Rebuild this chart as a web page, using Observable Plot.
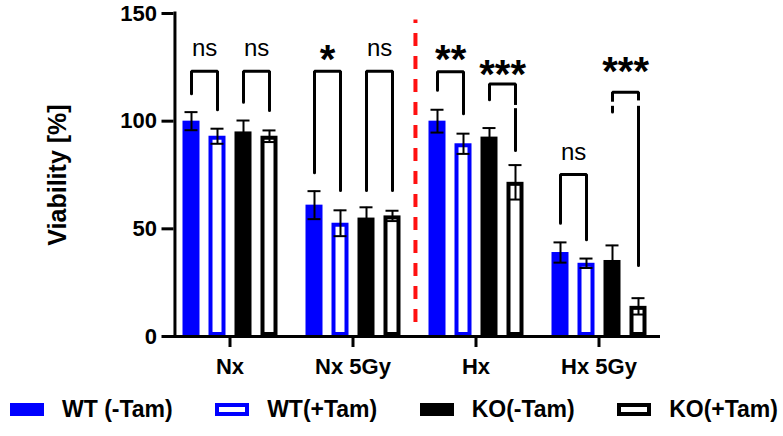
<!DOCTYPE html>
<html><head><meta charset="utf-8">
<script src="https://cdn.jsdelivr.net/npm/d3@7"></script>
<script src="https://cdn.jsdelivr.net/npm/@observablehq/plot@0.6"></script>
<style>
body{margin:0;background:#fff;font-family:"Liberation Sans",Arial,sans-serif;}
#chart{width:783px;}
.legend{display:flex;justify-content:space-between;align-items:center;padding:0 5px 0 10px;margin-top:11px;height:26px;font-weight:bold;font-size:23px;color:#000;}
.item{display:flex;align-items:center;gap:18px;}
.sw{width:34px;height:13px;box-sizing:border-box;}
</style></head><body><div id="chart"></div>
<script>
// ---- data ----
const groups = ["Nx", "Nx 5Gy", "Hx", "Hx 5Gy"];
const series = ["WT (-Tam)", "WT(+Tam)", "KO(-Tam)", "KO(+Tam)"];
const meanWTminus = [100, 61, 100, 39];
const meanWTplus  = [93, 52.6, 89.5, 34];
const meanKOminus = [95, 55, 92.6, 35.3];
const meanKOplus  = [93, 56, 71.6, 14];
const errWTminus = [4.2, 6.5, 5.3, 4.7];
const errWTplus  = [3.5, 6, 4.7, 2.2];
const errKOminus = [5.3, 5, 4.2, 7];
const errKOplus  = [2.7, 2.4, 8, 3.8];
const yTicks = [0, 50, 100, 150];
const yLabel = "Viability [%]";
// significance brackets
const brGroup  = ["Nx", "Nx", "Nx 5Gy", "Nx 5Gy", "Hx", "Hx", "Hx 5Gy", "Hx 5Gy"];
const brFrom   = [0, 2, 0, 2, 0, 2, 0, 2];
const brTop    = [123.2, 123.2, 123.2, 123.2, 123, 117.3, 75.2, 113.4];
const brLeftLo = [112.7, 108.8, 76, 67.8, 114.3, 109.9, 52.6, 104.2];
const brRightLo= [105.3, 105, 67.8, 67.8, 103.4, 86.4, 44.9, 33];
const brLabel  = ["ns", "ns", "*", "ns", "**", "***", "ns", "***"];
const brLabelY = [133.8, 133.8, 132.9, 133.8, 132.9, 125.9, 85.6, 127.4];
// small breaks visible in some bracket legs
const gapGroup  = ["Hx", "Hx 5Gy", "Hx 5Gy"];
const gapSeries = [3, 2, 3];
const gapHi     = [107.3, 108.8, 109.4];
const gapLo     = [105.8, 106.9, 106.9];
const divider = {group: "Hx", from: 6.5, to: 147};

// ---- build tables ----
const means = [meanWTminus, meanWTplus, meanKOminus, meanKOplus];
const errs = [errWTminus, errWTplus, errKOminus, errKOplus];
const rows = [];
groups.forEach((g, i) => series.forEach((s, j) => rows.push({group: g, series: s, mean: means[j][i], err: errs[j][i]})));
const brackets = brGroup.map((g, k) => ({id: k, group: g, from: series[brFrom[k]], to: series[brFrom[k] + 1],
  top: brTop[k], lo1: brLeftLo[k], lo2: brRightLo[k], label: brLabel[k], ly: brLabelY[k]}));
const brPts = brackets.flatMap(b => [
  {id: b.id, group: b.group, x: b.from, y: b.lo1},
  {id: b.id, group: b.group, x: b.from, y: b.top},
  {id: b.id, group: b.group, x: b.to, y: b.top},
  {id: b.id, group: b.group, x: b.to, y: b.lo2}]);
const gaps = gapGroup.map((g, k) => ({group: g, series: series[gapSeries[k]], hi: gapHi[k], lo: gapLo[k]}));

// ---- layout ----
const W = 783, H = 385, ML = 167.5, MR = 123.5, MT = 13, MB = 49;
const PI = 0.354, PO = 0.515;
const step = ((W - ML - MR) / groups.length) / (series.length - PI + 2 * PO);
const bw = step * (1 - PI);
const edge = PO * step + bw / 2;
const AX = 5.5; // y-axis offset from facet edge
const BLUE = "#0000ff";

const isHollow = d => d.series === series[1] || d.series === series[3];

const chart = Plot.plot({
  width: W, height: H, marginLeft: ML, marginRight: MR, marginTop: MT, marginBottom: MB,
  style: {fontFamily: "'Liberation Sans', Arial, sans-serif", background: "white", color: "black"},
  fx: {domain: groups, paddingInner: 0, paddingOuter: 0, axis: null, label: null},
  x: {domain: series, paddingInner: PI, paddingOuter: PO, axis: null},
  y: {domain: [0, 150], axis: null},
  color: {domain: series, range: [BLUE, BLUE, "black", "black"]},
  marks: [
    Plot.barY(rows.filter(d => !isHollow(d)), {fx: "group", x: "series", y: "mean", fill: "series"}),
    Plot.barY(rows.filter(isHollow), {fx: "group", x: "series", y: "mean", fill: "white", stroke: "series", strokeWidth: 4, inset: 2}),
    Plot.ruleX(rows, {fx: "group", x: "series", y1: d => d.mean - d.err, y2: d => d.mean + d.err, stroke: "black", strokeWidth: 2}),
    Plot.tickY(rows, {fx: "group", x: "series", y: d => d.mean + d.err, stroke: "black", strokeWidth: 2, inset: 2}),
    Plot.tickY(rows, {fx: "group", x: "series", y: d => d.mean - d.err, stroke: "black", strokeWidth: 2, inset: 2}),
    Plot.ruleY([0], {stroke: "black", strokeWidth: 3}),
    Plot.ruleX([{g: groups[0]}], {fx: "g", x: () => series[0], y1: 0, y2: 150, dx: -(edge - AX), stroke: "black", strokeWidth: 3, strokeLinecap: "square"}),
    Plot.axisY({ticks: yTicks, tickSize: 12, tickPadding: 5, fontSize: 22, fontWeight: "bold", strokeWidth: 3, dx: AX, label: null}),
    Plot.axisY({ticks: [], label: yLabel, labelAnchor: "center", labelArrow: "none", labelOffset: 120, fontSize: 25, fontWeight: "bold"}),
    Plot.axisFx({anchor: "bottom", tickSize: 11, tickPadding: 11, fontSize: 22, fontWeight: "bold", strokeWidth: 3, label: null}),
    Plot.line(brPts, {fx: "group", x: "x", y: "y", z: "id", stroke: "black", strokeWidth: 3, strokeLinejoin: "miter"}),
    Plot.ruleX(gaps, {fx: "group", x: "series", y1: "lo", y2: "hi", stroke: "white", strokeWidth: 5}),
    Plot.text(brackets.filter(b => b.label === "ns"), {fx: "group", x: "from", y: "ly", text: "label", dx: step / 2, fontSize: 24}),
    Plot.text(brackets.filter(b => b.label !== "ns"), {fx: "group", x: "from", y: "ly", text: "label", dx: step / 2, dy: 10, fontSize: 40, fontWeight: "bold"}),
    Plot.ruleX([divider], {fx: "group", x: () => series[0], y1: "from", y2: "to", dx: -edge, stroke: "#ff1010", strokeWidth: 4, strokeDasharray: "13,10"})
  ]
});
document.getElementById("chart").append(chart);

// ---- legend ----
const legend = document.createElement("div");
legend.className = "legend";
const swStyles = [
  `background:${BLUE}`,
  `background:#fff;border:4px solid ${BLUE}`,
  `background:#000`,
  `background:#fff;border:4px solid #000`
];
series.forEach((s, i) => {
  const item = document.createElement("div");
  item.className = "item";
  const sw = document.createElement("div");
  sw.className = "sw";
  sw.style.cssText = swStyles[i];
  const t = document.createElement("span");
  t.textContent = s;
  item.append(sw, t);
  legend.append(item);
});
document.getElementById("chart").append(legend);
</script>
</body></html>
